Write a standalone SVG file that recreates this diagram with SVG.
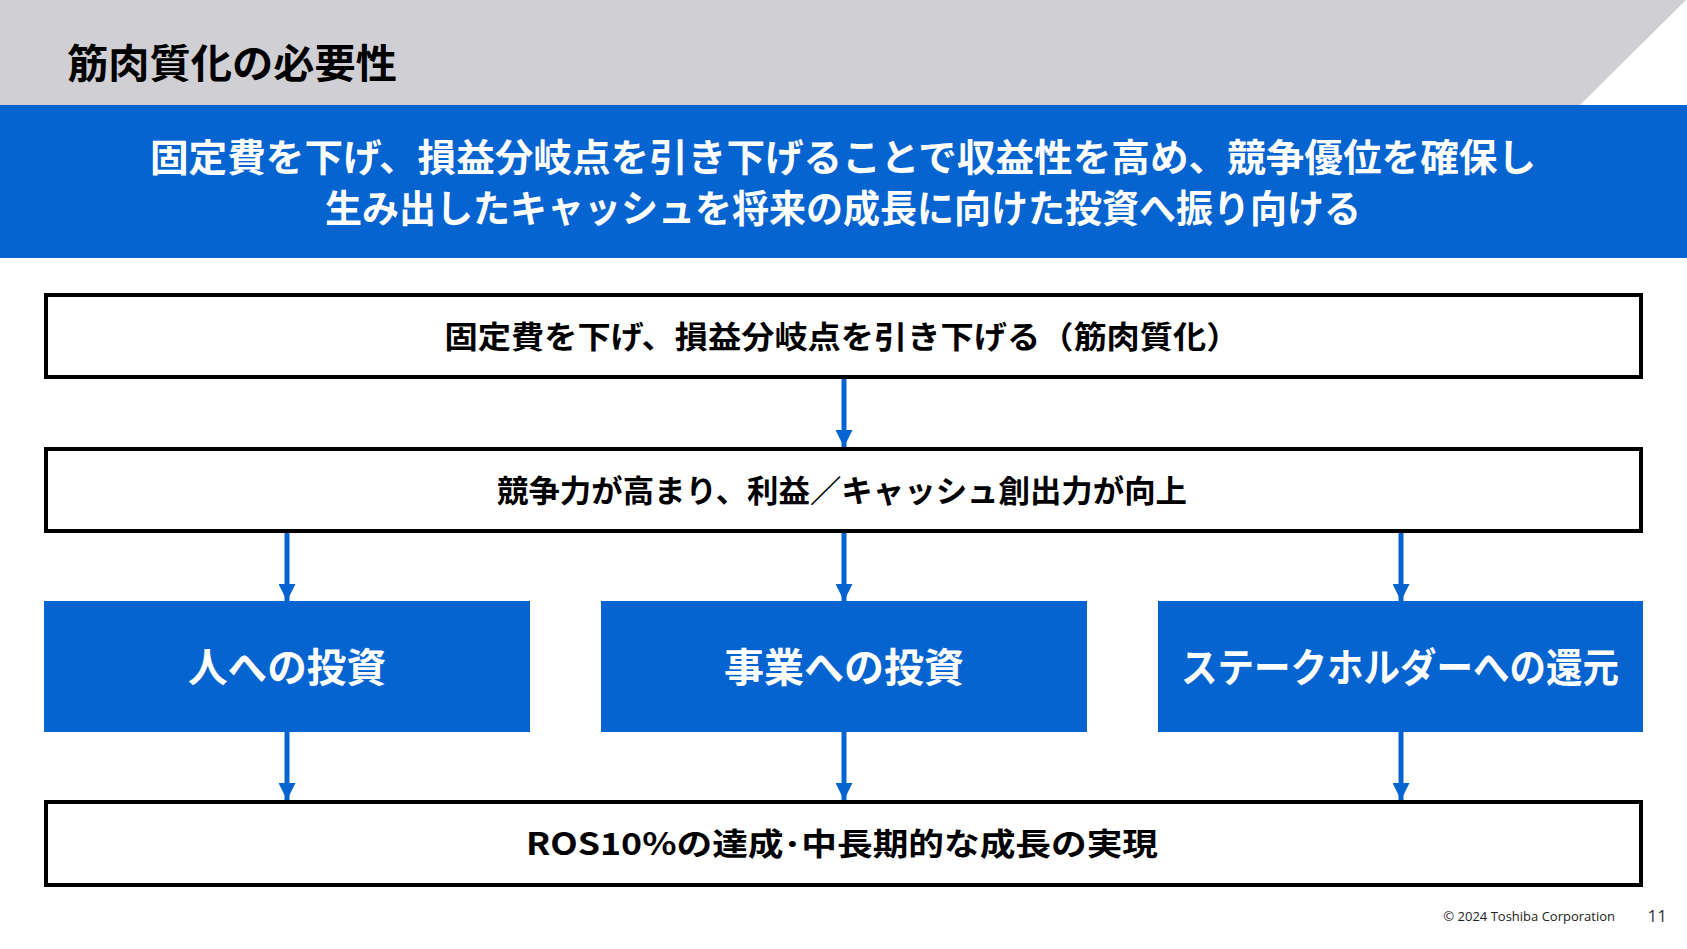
<svg xmlns="http://www.w3.org/2000/svg" width="1687" height="949" viewBox="0 0 1687 949">
  <defs>
    <style>
      .jp { font-family: "Noto Sans CJK JP", "Noto Sans", sans-serif; font-weight: 700; }
      .frame { fill: #FFFFFF; stroke: #000000; stroke-width: 4; }
      .blue { fill: #0564D0; }
      .lbl { font-size: 31px; fill: #000000; text-anchor: middle; }
      .wlbl { font-size: 40px; fill: #FFFFFF; text-anchor: middle; }
      .conn { stroke: #0564D0; stroke-width: 5; fill: none; marker-end: url(#arr); }
    </style>
    <marker id="arr" viewBox="0 0 10 10" refX="10" refY="5" markerWidth="3.4" markerHeight="3.4" orient="auto" markerUnits="strokeWidth">
      <path d="M0,0 L10,5 L0,10 Z" fill="#0564D0"/>
    </marker>
  </defs>
  <rect width="1687" height="949" fill="#FFFFFF"/>
  <g id="header">
    <polygon points="0,0 1686,0 1580,105 0,105" fill="#D0D0D4"/>
    <text x="67" y="78" class="jp" font-size="40" textLength="330" lengthAdjust="spacingAndGlyphs" fill="#000000">筋肉質化の必要性</text>
  </g>
  <g id="banner">
    <rect x="0" y="105" width="1687" height="153" class="blue"/>
    <text x="843" y="171" class="jp" font-size="38" fill="#FFFFFF" text-anchor="middle" textLength="1386" lengthAdjust="spacingAndGlyphs">固定費を下げ、損益分岐点を引き下げることで収益性を高め、競争優位を確保し</text>
    <text x="843" y="222" class="jp" font-size="38" fill="#FFFFFF" text-anchor="middle" textLength="1036" lengthAdjust="spacingAndGlyphs">生み出したキャッシュを将来の成長に向けた投資へ振り向ける</text>
  </g>
  <g id="connectors">
    <line x1="844" y1="379" x2="844" y2="447" class="conn"/>
    <line x1="287" y1="533" x2="287" y2="601" class="conn"/>
    <line x1="844" y1="533" x2="844" y2="601" class="conn"/>
    <line x1="1401" y1="533" x2="1401" y2="601" class="conn"/>
    <line x1="287" y1="732" x2="287" y2="800" class="conn"/>
    <line x1="844" y1="732" x2="844" y2="800" class="conn"/>
    <line x1="1401" y1="732" x2="1401" y2="800" class="conn"/>
  </g>
  <g id="node-fixedcost">
    <rect x="46" y="295" width="1595" height="82" class="frame"/>
    <text x="842" y="348" class="jp lbl" textLength="795" lengthAdjust="spacingAndGlyphs">固定費を下げ、損益分岐点を引き下げる（筋肉質化）</text>
  </g>
  <g id="node-competitiveness">
    <rect x="46" y="449" width="1595" height="82" class="frame"/>
    <text x="842" y="502" class="jp lbl" textLength="690" lengthAdjust="spacingAndGlyphs">競争力が高まり、利益／キャッシュ創出力が向上</text>
  </g>
  <g id="node-people">
    <rect x="44" y="601" width="486" height="131" class="blue"/>
    <text x="287" y="682" class="jp wlbl" textLength="198" lengthAdjust="spacingAndGlyphs">人への投資</text>
  </g>
  <g id="node-business">
    <rect x="601" y="601" width="486" height="131" class="blue"/>
    <text x="844" y="682" class="jp wlbl" textLength="240" lengthAdjust="spacingAndGlyphs">事業への投資</text>
  </g>
  <g id="node-stakeholders">
    <rect x="1158" y="601" width="485" height="131" class="blue"/>
    <text x="1400" y="682" class="jp wlbl" textLength="438" lengthAdjust="spacingAndGlyphs">ステークホルダーへの還元</text>
  </g>
  <g id="node-ros">
    <rect x="46" y="802" width="1595" height="83" class="frame"/>
    <text x="842" y="855" class="jp lbl" textLength="632" lengthAdjust="spacingAndGlyphs">ROS10%の達成･中長期的な成長の実現</text>
  </g>
  <g id="footer">
    <text x="1615" y="921" font-family="'Open Sans', 'Noto Sans', sans-serif" font-size="13" fill="#222222" text-anchor="end">© 2024 Toshiba Corporation</text>
    <text x="1667" y="922" font-family="'Open Sans', 'Noto Sans', sans-serif" font-size="17" fill="#333333" text-anchor="end">11</text>
  </g>
</svg>
